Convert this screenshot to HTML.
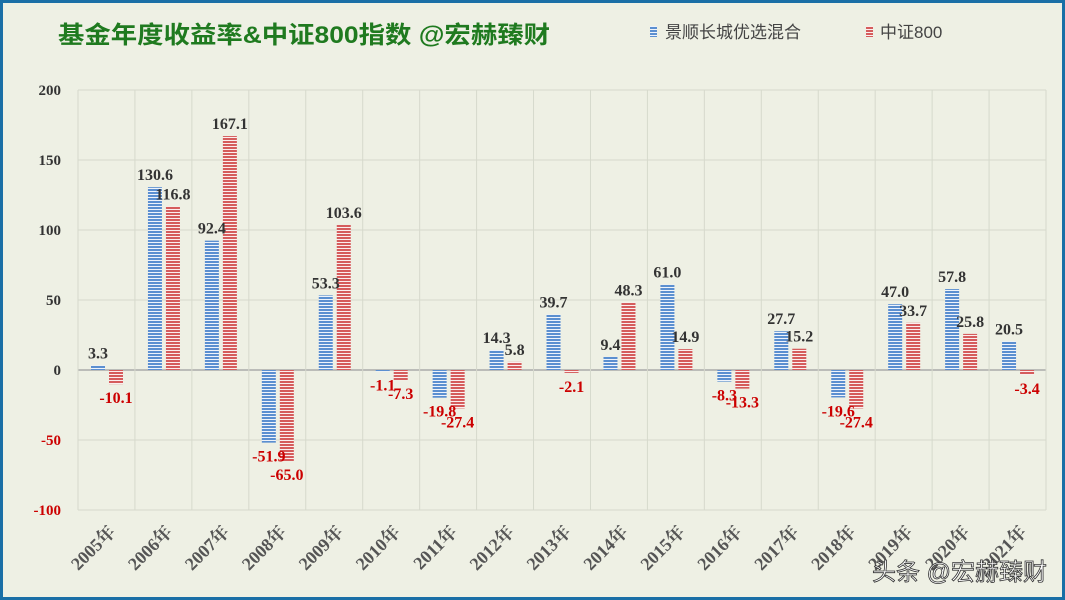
<!DOCTYPE html>
<html><head><meta charset="utf-8"><style>
html,body{margin:0;padding:0}
body{width:1065px;height:600px;overflow:hidden;background:#eef0e4}
#frame{position:absolute;left:0;top:0;width:1059px;height:594px;border:3px solid #1a6fa6;background:#eef0e4}
svg{position:absolute;left:0;top:0}
</style></head><body>
<div id="frame"></div>
<svg id="chart" width="1065" height="600">
<defs>
<pattern id="pb" width="4" height="3" patternUnits="userSpaceOnUse"><rect width="4" height="3" fill="#eef3fb"/><rect width="4" height="2" fill="#5b8fd0"/></pattern>
<pattern id="pr" width="4" height="3" patternUnits="userSpaceOnUse"><rect width="4" height="3" fill="#fbeeee"/><rect width="4" height="2" fill="#d55c5c"/></pattern>
</defs>
<text x="58" y="43" textLength="492" lengthAdjust="spacingAndGlyphs" font-family="'Liberation Sans','Noto Sans CJK SC',sans-serif" font-size="24" font-weight="bold" fill="#1f7a1f">基金年度收益率&amp;中证800指数 @宏赫臻财</text>
<g><rect x="650" y="26" width="7" height="11" fill="url(#pb)"/><text x="665" y="38" font-family="'Liberation Sans','Noto Sans CJK SC',sans-serif" font-size="17" fill="#444">景顺长城优选混合</text></g>
<g><rect x="866" y="26" width="7" height="11" fill="url(#pr)"/><text x="880" y="38" font-family="'Liberation Sans','Noto Sans CJK SC',sans-serif" font-size="17" fill="#444">中证800</text></g>
<g id="grid"></g><g id="bars"></g><g id="labels"></g>
<text x="1047" y="580" text-anchor="end" font-family="'Liberation Sans','Noto Sans CJK SC',sans-serif" font-size="24" fill="#fff" stroke="#333" stroke-width="0.8">头条 @宏赫臻财</text>
</svg>
<script>
const categories=["2005年","2006年","2007年","2008年","2009年","2010年","2011年","2012年","2013年","2014年","2015年","2016年","2017年","2018年","2019年","2020年","2021年"];
const fundValues=[3.3,130.6,92.4,-51.9,53.3,-1.1,-19.8,14.3,39.7,9.4,61.0,-8.3,27.7,-19.6,47.0,57.8,20.5];
const indexValues=[-10.1,116.8,167.1,-65.0,103.6,-7.3,-27.4,5.8,-2.1,48.3,14.9,-13.3,15.2,-27.4,33.7,25.8,-3.4];
const yTicks=[-100,-50,0,50,100,150,200];
const NS="http://www.w3.org/2000/svg";
const L=78,R=1046,Y0=370,PX=1.4;
const cw=(R-L)/categories.length;
const y=v=>Y0-v*PX;
const xc=i=>L+i*cw;
function mk(tag,attrs,parent,txt){const e=document.createElementNS(NS,tag);for(const k in attrs)e.setAttribute(k,attrs[k]);if(txt!==undefined)e.textContent=txt;parent.appendChild(e);return e;}
const grid=document.getElementById('grid'),bars=document.getElementById('bars'),labels=document.getElementById('labels');
const serif="'Liberation Serif','Noto Serif CJK SC',serif";
yTicks.forEach(t=>{
  const g=mk('line',{x1:L,x2:R,y1:y(t),y2:y(t),stroke:t===0?'#aaa':'#d6d9cc','stroke-width':t===0?1.5:1},grid);
  
  
  const tx=mk('text',{x:61,y:y(t)+5,'text-anchor':'end','font-family':serif,'font-size':15,'font-weight':'bold',fill:t<0?'#c00':'#333'},grid,String(t));
  
  
});
for(let i=0;i<=categories.length;i++){
  const l=mk('line',{x1:xc(i),x2:xc(i),y1:y(200),y2:y(-100),stroke:'#d6d9cc'},grid);
  
  
}
categories.forEach((c,i)=>{
  const cx=xc(i)+cw/2;
  const t=mk('text',{x:cx+10,y:533,'text-anchor':'end','font-family':serif,'font-size':18,'font-weight':'bold',fill:'#555',transform:`rotate(-45 ${cx+10} 533)`},labels,c);
  
  
  [[fundValues[i],13,'url(#pb)','fund'],[indexValues[i],31,'url(#pr)','index']].forEach(([v,off,fill,s])=>{
    const bx=xc(i)+off,top=Math.min(y(v),Y0),h=Math.abs(y(v)-Y0);
    const r=mk('rect',{x:bx,y:top,width:14,height:Math.max(h,1),fill:fill},bars);
    
    
    const ly=v>=0?y(v)-7:y(v)+19;
    const lt=mk('text',{x:bx+7,y:ly,'text-anchor':'middle','font-family':serif,'font-size':16,'font-weight':'bold',fill:v<0?'#c00':'#333'},labels,v.toFixed(1));
    
    
  });
});
</script>
</body></html>
